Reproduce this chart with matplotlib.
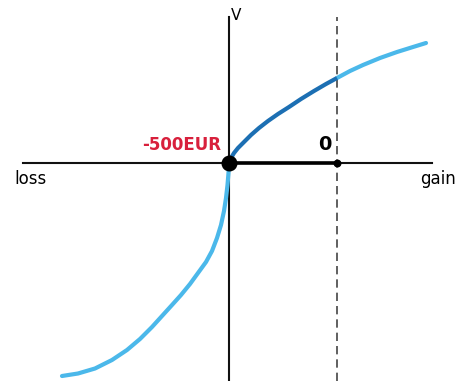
import matplotlib
matplotlib.use("Agg")
import matplotlib.pyplot as plt

# Value function (units: relative to origin)
gain_x = [0, 2, 5, 9, 15, 22, 30, 39, 49, 60, 72, 85, 97, 108]
gain_y = [0, 5, 10, 15, 21, 28, 35, 42, 49, 56, 64, 72, 79, 85]
gain2_x = [108, 121, 134, 151, 168, 184, 197]
gain2_y = [85, 92, 98, 105, 111, 116, 120]
loss_x = [0, -0.5, -1.5, -3, -5, -8, -12, -17, -23, -31, -39, -48, -57, -67, -77,
          -89, -102, -117, -134, -151, -167]
loss_y = [0, -10, -22, -35, -48, -62, -75, -88, -99, -110, -121, -132, -142, -153,
          -164, -176, -187, -197, -205.5, -210.5, -213]
ref_x = 108
labels = {"loss": "loss", "gain": "gain", "v": "V", "ref": "-500EUR", "zero": "0"}

light = "#4bb8ea"
dark = "#1c6fb3"
red = "#d8203c"

fig = plt.figure(figsize=(4.57, 3.81), dpi=100)
ax = fig.add_axes([0, 0, 1, 1])
ax.set_xlim(-229, 228)
ax.set_ylim(-218, 163)
ax.axis("off")

# axes
ax.plot([-206, 203], [0, 0], color="#111111", lw=1.5, zorder=2)
ax.plot([0, 0], [-218, 146], color="#111111", lw=1.5, zorder=2)
ax.plot([ref_x, ref_x], [-218, 146], color="#444444", lw=1.2, ls=(0, (5, 3)), zorder=2)

# curves
ax.plot(loss_x, loss_y, color=light, lw=3, solid_capstyle="round",
        solid_joinstyle="round", zorder=3)
ax.plot(gain2_x, gain2_y, color=light, lw=3, solid_capstyle="round",
        solid_joinstyle="round", zorder=3)
ax.plot(gain_x, gain_y, color=dark, lw=3, solid_capstyle="butt",
        solid_joinstyle="round", zorder=4)

# reference segment
ax.plot([0, ref_x], [0, 0], color="black", lw=2.6, zorder=5)
ax.scatter([0], [0], s=110, color="black", zorder=6)
ax.scatter([ref_x], [0], s=22, color="black", zorder=6)

fam = ["DejaVu Sans"]
ax.text(-199, -16, labels["loss"], fontsize=12, ha="center", va="center", family=fam)
ax.text(209, -16, labels["gain"], fontsize=12, ha="center", va="center", family=fam)
ax.text(7, 147, labels["v"], fontsize=11, ha="center", va="center", family=fam)
ax.text(-8, 18, labels["ref"], fontsize=12, ha="right", va="center", color=red,
        fontweight="bold", family=fam)
ax.text(96, 18, labels["zero"], fontsize=14, ha="center", va="center",
        fontweight="bold", family=fam)

fig.savefig("out.png", dpi=100)
